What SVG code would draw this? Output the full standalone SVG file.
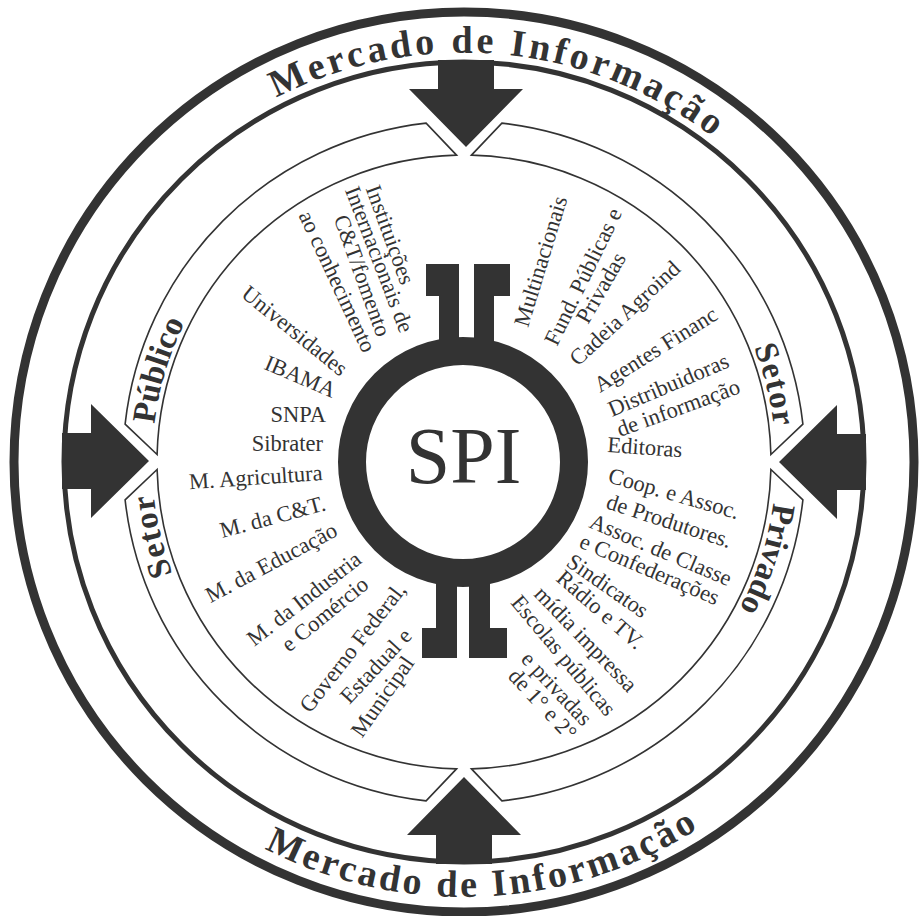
<svg xmlns="http://www.w3.org/2000/svg" width="921" height="916" viewBox="0 0 921 916">
<style>
.ring{fill:none;stroke:#333}
.dark{fill:#333}
.band{fill:#fff;stroke:#333;stroke-width:1.6}
.t{font-family:"Liberation Serif","Times New Roman",serif;font-size:22.5px;fill:#333}
.te{text-anchor:end}
.b{font-family:"Liberation Serif","Times New Roman",serif;font-weight:bold;fill:#333}
.arc{font-size:38px}
.lab{font-size:33px}
</style>
<defs>
<path id="arrow" d="M0,-315 L57,-373 L28,-373 L28,-402 L-28,-402 L-28,-373 L-57,-373 Z"/>
<path id="seg" d="M37.89,-338.89 A341,341 0 0 1 338.89,-37.89 L306.9,-7.5 A307,307 0 0 0 7.5,-306.9 Z"/>
<path id="pTop" d="M276.2,98.0 A409,409 0 0 1 777.3,199.1"/>
<path id="pBot" d="M264.5,848.5 A435,435 0 0 0 743.6,795.2"/>
<path id="pPub" d="M154.3,424.0 A312,312 0 0 1 208.4,283.0"/>
<path id="pSetL" d="M172.7,573.8 A312,312 0 0 1 153.2,434.8"/>
<path id="pSetR" d="M753.9,347.6 A312,312 0 0 1 776,462"/>
<path id="pPriv" d="M773.3,502.7 A312,312 0 0 1 719.6,641"/>
</defs>
<rect width="921" height="916" fill="#fff"/>

<g id="outer-rings">
<circle class="ring" cx="464" cy="462" r="450" stroke-width="9"/>
<circle class="ring" cx="464" cy="462" r="400" stroke-width="5"/>
</g>

<g id="mercado-top"><text class="b arc" letter-spacing="3.5"><textPath href="#pTop">Mercado de Informação</textPath></text></g>
<g id="mercado-bottom"><text class="b arc" letter-spacing="3.1"><textPath href="#pBot">Mercado de Informação</textPath></text></g>

<g id="band">
<use href="#seg" class="band" transform="translate(464,462)"/>
<use href="#seg" class="band" transform="translate(464,462) rotate(90)"/>
<use href="#seg" class="band" transform="translate(464,462) rotate(180)"/>
<use href="#seg" class="band" transform="translate(464,462) rotate(270)"/>
</g>

<g id="setor-publico">
<text class="b lab"><textPath href="#pPub">Público</textPath></text>
<text class="b lab" letter-spacing="1.5"><textPath href="#pSetL">Setor</textPath></text>
</g>
<g id="setor-privado">
<text class="b lab" letter-spacing="1.5"><textPath href="#pSetR">Setor</textPath></text>
<text class="b lab"><textPath href="#pPriv">Privado</textPath></text>
</g>

<g id="connectors">
<use href="#arrow" class="dark" transform="translate(466,462)"/>
<use href="#arrow" class="dark" transform="translate(464,462) rotate(90)"/>
<use href="#arrow" class="dark" transform="translate(464,462) rotate(180)"/>
<use href="#arrow" class="dark" transform="translate(464,461) rotate(270)"/>
</g>

<g id="spi">
<circle class="ring" cx="463" cy="462" r="111" stroke-width="28"/>
<path class="dark" d="M426,264 H459 V342 H439 V296 H426 Z"/>
<path class="dark" d="M474,264 H510 V296 H494 V342 H474 Z"/>
<path class="dark" d="M436,582 H457 V658 H422 V628 H436 Z"/>
<path class="dark" d="M469,582 H490 V628 H507 V658 H469 Z"/>
<text x="463.5" y="483" text-anchor="middle" font-family="Liberation Serif, Times New Roman, serif" font-size="80" fill="#333">SPI</text>
</g>

<g id="publico-items">
<text class="t te" transform="translate(401,286) rotate(70)">Instituições</text>
<text class="t te" transform="translate(400,334) rotate(69)">Internacionais de</text>
<text class="t te" transform="translate(377,338) rotate(70)">C&amp;T/fomento</text>
<text class="t te" transform="translate(363,354) rotate(65)">ao conhecimento</text>
<text class="t te" transform="translate(340,377) rotate(39)">Universidades</text>
<text class="t te" transform="translate(332,398) rotate(23)">IBAMA</text>
<text class="t te" transform="translate(326,422)">SNPA</text>
<text class="t te" transform="translate(323,451)">Sibrater</text>
<text class="t te" transform="translate(323,480) rotate(-4)">M. Agricultura</text>
<text class="t te" transform="translate(327,510) rotate(-15)">M. da C&amp;T.</text>
<text class="t te" transform="translate(339,535) rotate(-28)">M. da Educação</text>
<text class="t te" transform="translate(363,562) rotate(-38)">M. da Industria</text>
<text class="t te" transform="translate(370,587) rotate(-39)">e Comércio</text>
<text class="t te" transform="translate(407,590) rotate(-52)">Governo Federal,</text>
<text class="t te" transform="translate(413,637) rotate(-47)">Estadual e</text>
<text class="t te" transform="translate(415,663) rotate(-55)">Municipal</text>
</g>

<g id="privado-items">
<text class="t" transform="translate(528,328) rotate(-73)">Multinacionais</text>
<text class="t" transform="translate(557,347) rotate(-64)">Fund. Públicas e</text>
<text class="t" transform="translate(588,325) rotate(-60)">Privadas</text>
<text class="t" transform="translate(578,367) rotate(-43)">Cadeia Agroind</text>
<text class="t" transform="translate(600,393) rotate(-32)">Agentes Financ</text>
<text class="t" transform="translate(612,417) rotate(-23)">Distribuidoras</text>
<text class="t" transform="translate(620,437) rotate(-20)">de informação</text>
<text class="t" transform="translate(607,452) rotate(4)">Editoras</text>
<text class="t" transform="translate(607,482) rotate(16)">Coop. e Assoc.</text>
<text class="t" transform="translate(605,508) rotate(18)">de Produtores.</text>
<text class="t" transform="translate(588,527) rotate(23)">Assoc. de Classe</text>
<text class="t" transform="translate(578,547) rotate(23)">e Confederações</text>
<text class="t" transform="translate(565,565) rotate(35)">Sindicatos</text>
<text class="t" transform="translate(555,580) rotate(41)">Rádio e TV.</text>
<text class="t" transform="translate(533,595) rotate(46)">mídia impressa</text>
<text class="t" transform="translate(510,603) rotate(50)">Escolas públicas</text>
<text class="t" transform="translate(520,660) rotate(47)">e privadas</text>
<text class="t" transform="translate(507,677) rotate(47)">de 1° e 2°</text>
</g>
</svg>
